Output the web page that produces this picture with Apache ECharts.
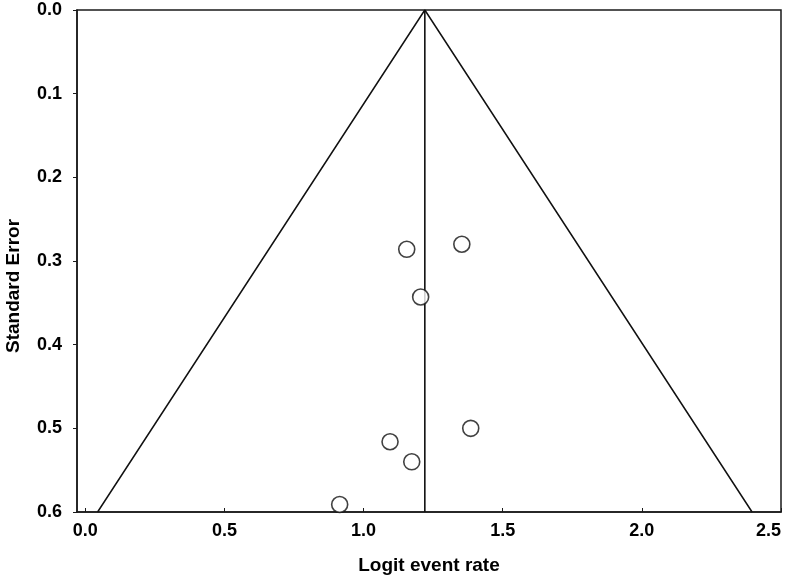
<!DOCTYPE html>
<html>
<head>
<meta charset="utf-8">
<script src="https://cdn.jsdelivr.net/npm/echarts@6/dist/echarts.min.js"></script>
<style>
  html, body { margin: 0; padding: 0; background: #fff; }
  #main { width: 787px; height: 580px; }
</style>
</head>
<body>
<div id="main"></div>
<script>
// studies: logit event rate vs standard error
var studyX = [1.155, 1.353, 1.205, 1.095, 1.173, 1.385, 0.914];
var studySE = [0.286, 0.280, 0.343, 0.516, 0.540, 0.500, 0.591];

// funnel outline and pooled estimate
var funnelX = [0.044, 1.22, 2.396];
var funnelSE = [0.6, 0.0, 0.6];
var pooledX = [1.22, 1.22];
var pooledSE = [0.0, 0.6];

var xTicks = [0.0, 0.5, 1.0, 1.5, 2.0, 2.5];

function pairs(xs, ys) {
    var r = [];
    for (var i = 0; i < xs.length; i++) {
        r.push([xs[i], ys[i]]);
    }
    return r;
}

var myChart = echarts.init(document.getElementById('main'));

var fontFam = 'Liberation Sans, Arial, sans-serif';

var option = {
    animation: false,
    backgroundColor: '#fff',
    grid: {
        left: 77,
        right: 6,
        top: 10,
        bottom: 68,
        outerBoundsMode: 'none',
        show: true,
        borderColor: '#1a1a1a',
        borderWidth: 1.5
    },
    xAxis: {
        type: 'value',
        min: -0.03,
        max: 2.5,
        name: 'Logit event rate',
        nameLocation: 'middle',
        nameGap: 44,
        nameTextStyle: { fontFamily: fontFam, fontWeight: 'bold', fontSize: 19, color: '#000' },
        splitLine: { show: false },
        axisLine: { show: true, onZero: false, lineStyle: { color: '#1a1a1a', width: 1.5 } },
        axisTick: {
            show: true,
            inside: true,
            length: 4,
            customValues: xTicks,
            lineStyle: { color: '#1a1a1a' }
        },
        axisLabel: {
            customValues: xTicks,
            margin: 10,
            alignMaxLabel: 'right',
            formatter: function (v) { return v.toFixed(1); },
            fontFamily: fontFam,
            fontWeight: 'bold',
            fontSize: 18,
            color: '#000'
        }
    },
    yAxis: {
        type: 'value',
        inverse: true,
        min: 0,
        max: 0.6,
        interval: 0.1,
        name: 'Standard Error',
        nameLocation: 'middle',
        nameGap: 54,
        nameTextStyle: {
            fontFamily: fontFam,
            fontWeight: 'bold',
            fontSize: 19,
            color: '#000',
            padding: [0, 50, 0, 0]
        },
        splitLine: { show: false },
        axisLine: { show: true, onZero: false, lineStyle: { color: '#1a1a1a', width: 1.5 } },
        axisTick: { show: true, length: 4, lineStyle: { color: '#1a1a1a' } },
        axisLabel: {
            margin: 15,
            formatter: function (v) { return v.toFixed(1); },
            fontFamily: fontFam,
            fontWeight: 'bold',
            fontSize: 18,
            color: '#000'
        }
    },
    series: [
        {
            type: 'line',
            data: pairs(funnelX, funnelSE),
            symbol: 'none',
            lineStyle: { color: '#111', width: 1.5 },
            z: 2
        },
        {
            type: 'line',
            data: pairs(pooledX, pooledSE),
            symbol: 'none',
            lineStyle: { color: '#111', width: 1.6 },
            z: 2
        },
        {
            type: 'scatter',
            data: pairs(studyX, studySE),
            symbol: 'circle',
            symbolSize: 16,
            itemStyle: { color: '#fff', borderColor: '#111', borderWidth: 1.6 },
            z: 3
        }
    ]
};

myChart.setOption(option);
</script>
</body>
</html>
